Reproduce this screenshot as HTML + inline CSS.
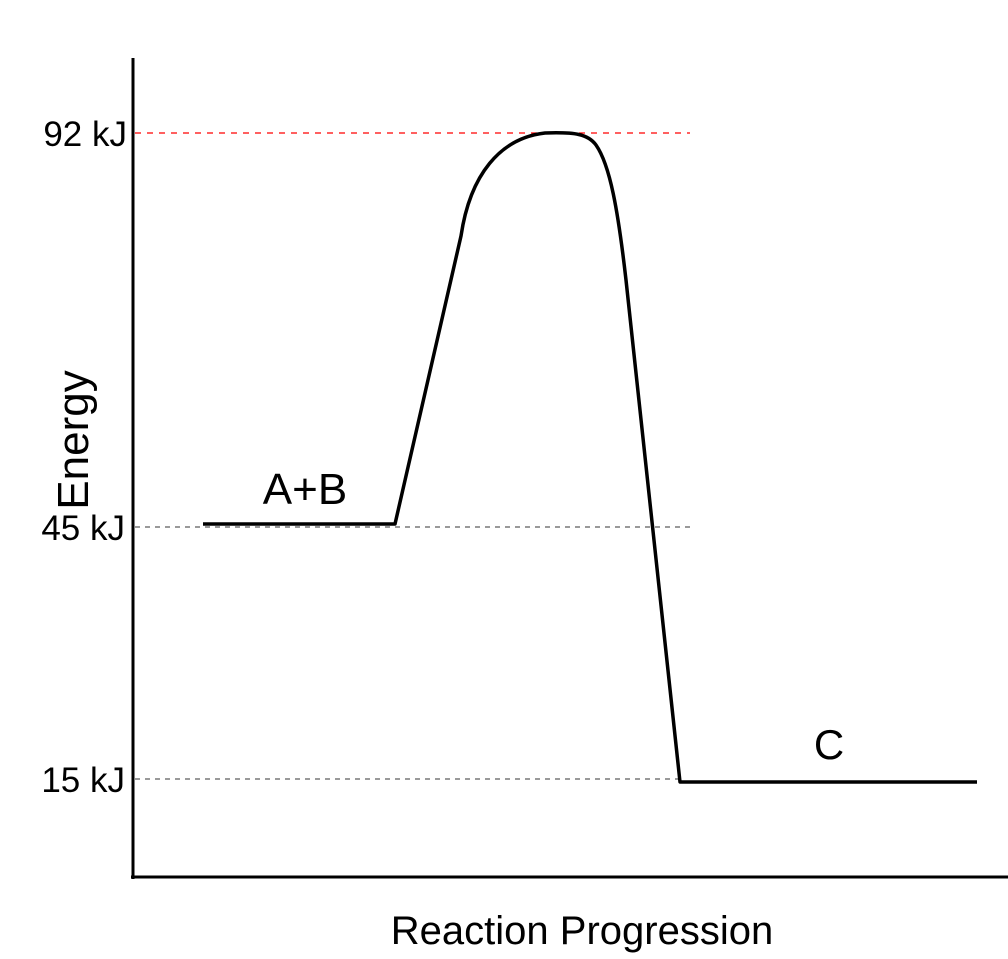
<!DOCTYPE html>
<html><head><style>body{margin:0;background:#fff}</style></head><body>
<svg width="1008" height="954" xmlns="http://www.w3.org/2000/svg" font-family="Liberation Sans, sans-serif">
<line x1="133" y1="58" x2="133" y2="879" stroke="#000" stroke-width="3"/>
<line x1="131" y1="877" x2="1008" y2="877" stroke="#000" stroke-width="3"/>
<line x1="135" y1="133" x2="690" y2="133" stroke="#f00" stroke-width="1.2" stroke-dasharray="6,6"/>
<line x1="135" y1="527" x2="690" y2="527" stroke="#333" stroke-width="1" stroke-dasharray="5,5"/>
<line x1="135" y1="779" x2="680" y2="779" stroke="#333" stroke-width="1" stroke-dasharray="5,5"/>
<path d="M203,524 L395,524 L461,236 C470,175 500,138 545,133 C575,132 588,134 596,145 C610,165 618,210 626,280 L680,782 L977,782" fill="none" stroke="#000" stroke-width="3.5" stroke-linejoin="round"/>
<g font-size="35" fill="#000" text-anchor="end">
<text x="127" y="146">92 kJ</text>
<text x="125" y="540">45 kJ</text>
<text x="125" y="792">15 kJ</text>
</g>
<text transform="translate(88,440) rotate(-90)" font-size="44" text-anchor="middle">Energy</text>
<text x="305" y="504" font-size="44" text-anchor="middle">A+B</text>
<text x="829" y="759" font-size="42" text-anchor="middle">C</text>
<text x="582" y="944" font-size="40" text-anchor="middle">Reaction Progression</text>
</svg>
</body></html>
